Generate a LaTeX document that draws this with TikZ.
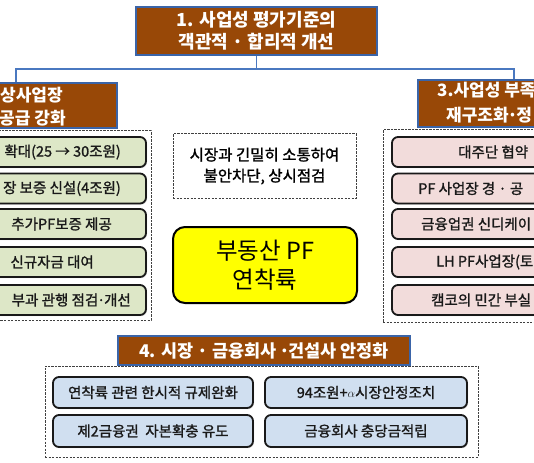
\documentclass[tikz,border=0pt]{standalone}
\usepackage{fontspec}
\setmainfont{Noto Sans CJK KR}
\newfontfamily\semib{Noto Sans CJK KR}[FakeBold=1.3]
\newcommand\tightdot{\kern-0.08em·\kern-0.08em}
\usetikzlibrary{shadows}
\definecolor{brownc}{HTML}{984807}
\definecolor{hdrline}{HTML}{3A64A8}
\definecolor{connc}{HTML}{4A78C0}
\definecolor{greenc}{HTML}{DDE7C7}
\definecolor{pinkc}{HTML}{F2DCDB}
\definecolor{bluec}{HTML}{D0DFF0}
\definecolor{yellowc}{HTML}{FFFF00}
\begin{document}
\begin{tikzpicture}[x=1pt,y=-1pt,
  hdr/.style={draw=hdrline, line width=1.3pt, fill=brownc, text=white,
    font=\bfseries\fontsize{18}{22}\selectfont, align=center, inner sep=0pt},
  htxt/.style={text=white, font=\bfseries\fontsize{17}{22}\selectfont, inner sep=0pt},
  conn/.style={draw=connc, line width=1.4pt},
  dbox/.style={draw=black!75, line width=1pt, dash pattern=on 2.2pt off 1.3pt, inner sep=0pt},
  itembox/.style={draw=black!90, line width=1.8pt, rounded corners=6pt, inner sep=0pt,
    drop shadow={shadow xshift=1pt, shadow yshift=-1.2pt, opacity=0.3}},
  itxt/.style={font=\semib\fontsize{14.5}{16}\selectfont, inner sep=0pt, text=black!90},
  btxt/.style={font=\semib\fontsize{14.5}{16}\selectfont, text=black!90}
]
\clip (0,0) rectangle (534,462);
\fill[white] (0,0) rectangle (534,462);

% top header
\node[hdr, minimum width=241pt, minimum height=48pt] (top) at (256.5,31)
  {1. 사업성 평가기준의\\객관적 · 합리적 개선};

% left header
\node[hdr, minimum width=177pt, minimum height=45pt] (lhdr) at (28.5,105.5) {};
\node[htxt, anchor=west] (lh1) at (0,95) {상사업장};
\node[htxt, anchor=west] (lh2) at (-1,118) {공급 강화};

% right header
\node[hdr, minimum width=182pt, minimum height=47pt] (rhdr) at (509,103.5) {};
\node[htxt, anchor=west] (rh1) at (437,90) {3.사업성 부족};
\node[htxt, anchor=west] (rh2) at (446,115) {재구조화\tightdot 정};

% connectors
\coordinate (jl) at (16,69);
\coordinate (jr) at (514,69);
\draw[conn] (top.south) -- (top.south |- jl);
\draw[conn] (lhdr.north -| jl) -- (jl) -- (jr) -- (rhdr.north -| jr);

% left dashed group
\node[dbox, minimum width=161pt, minimum height=189pt] (lgrp) at (70.5,225.5) {};
\foreach \n/\yy in {1/152, 2/188.5, 3/224, 4/262, 5/300}{
  \node[itembox, fill=greenc, minimum width=166pt, minimum height=30pt] (l\n) at (63,\yy) {};
}
\node[itxt, anchor=east] (lt1) at (121,152) {확대(25 → 30조원)};
\node[itxt, anchor=east] (lt2) at (121,188.5) {장 보증 신설(4조원)};
\node[itxt, anchor=east] (lt3) at (112,224) {추가PF보증 제공};
\node[itxt, anchor=east] (lt4) at (94,262) {신규자금 대여};
\node[itxt, anchor=east] (lt5) at (131,300) {부과 관행 점검\tightdot 개선};

% right dashed group
\node[dbox, minimum width=217pt, minimum height=192pt] (rgrp) at (491.5,226) {};
\foreach \n/\yy in {1/152, 2/188.5, 3/224, 4/262, 5/300}{
  \node[itembox, fill=pinkc, minimum width=208pt, minimum height=30pt] (r\n) at (496,\yy) {};
}
\node[itxt, anchor=west] (rt1) at (458,152) {대주단 협약};
\node[itxt, anchor=west] (rt2) at (418,188.5) {PF 사업장 경 · 공};
\node[itxt, anchor=west] (rt3) at (421,224) {금융업권 신디케이};
\node[itxt, anchor=west] (rt4) at (436,262) {LH PF사업장(토};
\node[itxt, anchor=west] (rt5) at (431,300) {캠코의 민간 부실};

% centre
\node[dbox, minimum width=183pt, minimum height=64pt, align=center,
  font=\semib\fontsize{15.5}{21}\selectfont] (mid) at (264.5,166)
  {시장과 긴밀히 소통하여\\불안차단, 상시점검};
\node[draw=black, line width=2pt, fill=yellowc, rounded corners=12pt,
  minimum width=184pt, minimum height=76pt, align=center, inner sep=0pt,
  font=\fontsize{23.5}{29}\selectfont] (core) at (265,265)
  {부동산 PF\\연착륙};

% bottom group
\node[dbox, minimum width=433pt, minimum height=91pt] (bgrp) at (261.5,411.5) {};
\node[hdr, minimum width=292pt, minimum height=29pt, font=\bfseries\fontsize{17.5}{22}\selectfont]
  (bhdr) at (264,350.5) {4. 시장 · 금융회사 \tightdot 건설사 안정화};
\node[itembox, fill=bluec, minimum width=200pt, minimum height=31pt, btxt] (b1) at (153,392.5)
  {연착륙 관련 한시적 규제완화};
\node[itembox, fill=bluec, minimum width=202pt, minimum height=31pt, btxt] (b2) at (366,392.5)
  {94조원+{\fontsize{13}{14}\selectfont$\alpha$}시장안정조치};
\node[itembox, fill=bluec, minimum width=200pt, minimum height=32pt, btxt] (b3) at (153,431)
  {제2금융권\ \ 자본확충 유도};
\node[itembox, fill=bluec, minimum width=202pt, minimum height=32pt, btxt] (b4) at (366,431)
  {금융회사 충당금적립};
\end{tikzpicture}
\end{document}
